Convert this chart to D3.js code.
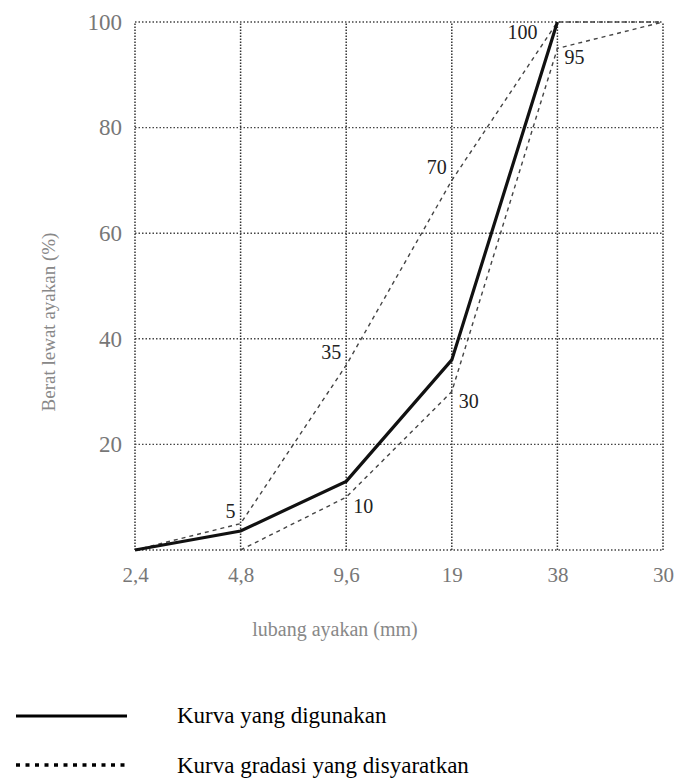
<!DOCTYPE html>
<html>
<head>
<meta charset="utf-8">
<script src="https://cdn.jsdelivr.net/npm/d3@7"></script>
<style>
  body { margin: 0; background: #fff; }
  svg { font-family: "Liberation Serif", "DejaVu Serif", serif; }
</style>
</head>
<body>
<div id="chart"></div>
<script>
const sieves = ["2,4", "4,8", "9,6", "19", "38", "30"]; // x categories (sieve sizes)
const yTicks = [20, 40, 60, 80, 100];

const usedCurve = [0, 3.6, 13, 36, 100, null]; // Kurva yang digunakan
const upperLimit = [0, 5, 35, 70, 100, 100]; // upper boundary
const lowerLimit = [null, 0, 10, 30, 95, 100]; // lower boundary

const upperLabels = [null, "5", "35", "70", "100", null];
const lowerLabels = [null, null, "10", "30", "95", null];

const legendItems = ["Kurva yang digunakan", "Kurva gradasi yang disyaratkan"];

const width = 689,
    height = 780,
    margin = ({ top: 22, right: 26, bottom: 230, left: 135 }); // dimensions

const svg = d3.select("#chart")
    .append("svg")
    .attr("width", width)
    .attr("height", height);

let x = d3.scalePoint() // evenly spaced sieve sizes
    .domain(sieves)
    .range([margin.left, width - margin.right]);

let y = d3.scaleLinear()
    .domain([0, 100])
    .range([height - margin.bottom, margin.top]);

// dotted grid + frame
svg.append("g")
    .selectAll("line")
    .data(sieves)
    .join("line")
    .attr("x1", d => x(d)).attr("x2", d => x(d))
    .attr("y1", y(0)).attr("y2", y(100))
    .attr("stroke", "#333")
    .attr("stroke-width", 1.5)
    .attr("stroke-dasharray", "1.5,1.5");

svg.append("g")
    .selectAll("line")
    .data([0].concat(yTicks))
    .join("line")
    .attr("x1", x(sieves[0])).attr("x2", x(sieves[sieves.length - 1]))
    .attr("y1", d => y(d)).attr("y2", d => y(d))
    .attr("stroke", "#444")
    .attr("stroke-width", 1.4)
    .attr("stroke-dasharray", "1.5,2");

// axes (text only, grid does the lines)
svg.append("g")
    .attr("transform", `translate(0,${y(0) + 14})`)
    .call(d3.axisBottom(x).tickSize(0))
    .call(g => g.select(".domain").remove())
    .call(g => g.selectAll("text")
        .attr("font-family", "Liberation Serif")
        .attr("font-size", 21)
        .attr("fill", "#777"));

svg.append("g")
    .attr("transform", `translate(${margin.left - 10},0)`)
    .call(d3.axisLeft(y).tickValues(yTicks).tickSize(0))
    .call(g => g.select(".domain").remove())
    .call(g => g.selectAll("text")
        .attr("font-family", "Liberation Serif")
        .attr("font-size", 23)
        .attr("fill", "#777"));

// axis labels
svg.append("text")
    .attr("text-anchor", "middle")
    .attr("transform", `translate(55,322) rotate(-90)`)
    .attr("font-size", 19)
    .attr("fill", "#888")
    .text("Berat lewat ayakan (%)");

svg.append("text")
    .attr("text-anchor", "middle")
    .attr("x", 335)
    .attr("y", 636)
    .attr("font-size", 20)
    .attr("fill", "#888")
    .text("lubang ayakan (mm)");

// curves
const line = d3.line()
    .defined(d => d.v !== null)
    .x(d => x(d.k))
    .y(d => y(d.v));

const toPts = arr => arr.map((v, i) => ({ k: sieves[i], v: v }));

[upperLimit, lowerLimit].forEach(arr => {
    svg.append("path")
        .datum(toPts(arr))
        .attr("d", line)
        .attr("fill", "none")
        .attr("stroke", "#444")
        .attr("stroke-width", 1.4)
        .attr("stroke-dasharray", "4,4");
});

svg.append("path")
    .datum(toPts(usedCurve))
    .attr("d", line)
    .attr("fill", "none")
    .attr("stroke", "#111")
    .attr("stroke-width", 3.2);

// point labels
svg.append("g")
    .selectAll("text")
    .data(toPts(upperLimit).map((d, i) => ({ ...d, t: upperLabels[i] })).filter(d => d.t))
    .join("text")
    .attr("x", d => d.v === 100 ? x(d.k) - 20 : x(d.k) - 5)
    .attr("y", d => d.v === 100 ? y(d.v) + 17 : y(d.v) - 6)
    .attr("text-anchor", "end")
    .attr("font-size", 20)
    .attr("fill", "#222")
    .text(d => d.t);

svg.append("g")
    .selectAll("text")
    .data(toPts(lowerLimit).map((d, i) => ({ ...d, t: lowerLabels[i] })).filter(d => d.t))
    .join("text")
    .attr("x", d => x(d.k) + 7)
    .attr("y", d => y(d.v) + 16)
    .attr("font-size", 20)
    .attr("fill", "#222")
    .text(d => d.t);

// legend
const legend = svg.append("g");

legend.append("line")
    .attr("x1", 16).attr("x2", 127)
    .attr("y1", 716).attr("y2", 716)
    .attr("stroke", "#000")
    .attr("stroke-width", 3);

legend.append("line")
    .attr("x1", 16).attr("x2", 128)
    .attr("y1", 765).attr("y2", 765)
    .attr("stroke", "#000")
    .attr("stroke-width", 3.5)
    .attr("stroke-dasharray", "4,5.5");

legend.selectAll("text")
    .data(legendItems)
    .join("text")
    .attr("x", 177)
    .attr("y", (d, i) => 723 + i * 50)
    .attr("font-size", 23)
    .attr("fill", "#000")
    .text(d => d);
</script>
</body>
</html>
